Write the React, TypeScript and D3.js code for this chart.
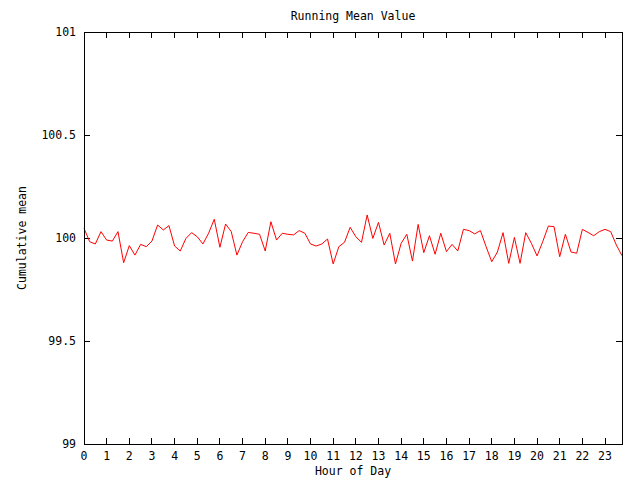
import React from "react";
import * as d3 from "d3";

const title = "Running Mean Value";
const xLabel = "Hour of Day";
const yLabel = "Cumulative mean";
const xTicks = d3.range(0, 24);
const yTicks = [99, 99.5, 100, 100.5, 101];
const yTickLabels = ["99", "99.5", "100", "100.5", "101"];
const hourStep = 0.25;
const meanValues = [
  100.047, 99.982, 99.971, 100.031, 99.99, 99.985, 100.031, 99.88, 99.963, 99.917,
  99.969, 99.958, 99.985, 100.063, 100.039, 100.06, 99.961, 99.937, 99.998, 100.026,
  100.006, 99.971, 100.023, 100.091, 99.955, 100.068, 100.031, 99.917, 99.982, 100.027,
  100.023, 100.018, 99.937, 100.079, 99.99, 100.023, 100.018, 100.015, 100.036, 100.023,
  99.971, 99.961, 99.971, 99.995, 99.874, 99.958, 99.979, 100.052, 100.006, 99.979,
  100.112, 99.998, 100.076, 99.966, 100.023, 99.874, 99.974, 100.018, 99.888, 100.066,
  99.929, 100.011, 99.921, 100.023, 99.934, 99.969, 99.937, 100.042, 100.036, 100.02,
  100.036, 99.958, 99.885, 99.932, 100.026, 99.877, 100.003, 99.877, 100.026, 99.974,
  99.913, 99.982, 100.058, 100.055, 99.909, 100.018, 99.932, 99.926, 100.042, 100.027,
  100.011, 100.031, 100.042, 100.031, 99.966, 99.914,
];

export default function App() {
  const W = 640, H = 480;
  const left = 84, right = 622, top = 32, bottom = 444;
  const hours = meanValues.map((_, i) => i * hourStep);
  const x = d3.scaleLinear().domain([0, hours[hours.length - 1]]).range([left, right]);
  const y = d3.scaleLinear().domain([99, 101]).range([bottom, top]);
  const line = d3
    .line<number>()
    .x((_, i) => x(hours[i]))
    .y((d) => y(d));
  const font = "'DejaVu Sans Mono', 'Liberation Mono', monospace";
  const fs = 11.5;
  const tl = 6;
  return (
    <svg
      width={W}
      height={H}
      style={{ position: "absolute", left: 0, top: 0, background: "#fff" }}
      fontFamily={font}
      fontSize={fs}
    >
      <rect x={0} y={0} width={W} height={H} fill="#fff" />
      <text x={(left + right) / 2} y={20} textAnchor="middle" fill="#000">
        {title}
      </text>
      <g shapeRendering="crispEdges" stroke="#000" strokeWidth={1}>
        {yTicks.map((t) => (
          <g key={"y" + t}>
            <line x1={left} x2={left + tl} y1={y(t)} y2={y(t)} />
            <line x1={right - tl} x2={right} y1={y(t)} y2={y(t)} />
          </g>
        ))}
        {xTicks.map((t) => (
          <g key={"x" + t}>
            <line x1={x(t)} x2={x(t)} y1={bottom} y2={bottom - tl} />
            <line x1={x(t)} x2={x(t)} y1={top} y2={top + tl} />
          </g>
        ))}
      </g>
      {yTicks.map((t, i) => (
        <text key={"yl" + t} x={left - 8} y={y(t)} dy="0.35em" textAnchor="end" fill="#000">
          {yTickLabels[i]}
        </text>
      ))}
      {xTicks.map((t) => (
        <text key={"xl" + t} x={x(t)} y={bottom + 16} textAnchor="middle" fill="#000">
          {String(t)}
        </text>
      ))}
      <text x={(left + right) / 2} y={bottom + 31} textAnchor="middle" fill="#000">
        {xLabel}
      </text>
      <text
        transform={`translate(${26},${(top + bottom) / 2}) rotate(-90)`}
        textAnchor="middle"
        fill="#000"
      >
        {yLabel}
      </text>
      <path d={line(meanValues) || ""} fill="none" stroke="#ff0000" strokeWidth={1} />
      <rect
        x={left}
        y={top}
        width={right - left}
        height={bottom - top}
        fill="none"
        stroke="#000"
        strokeWidth={1}
        shapeRendering="crispEdges"
      />
    </svg>
  );
}
